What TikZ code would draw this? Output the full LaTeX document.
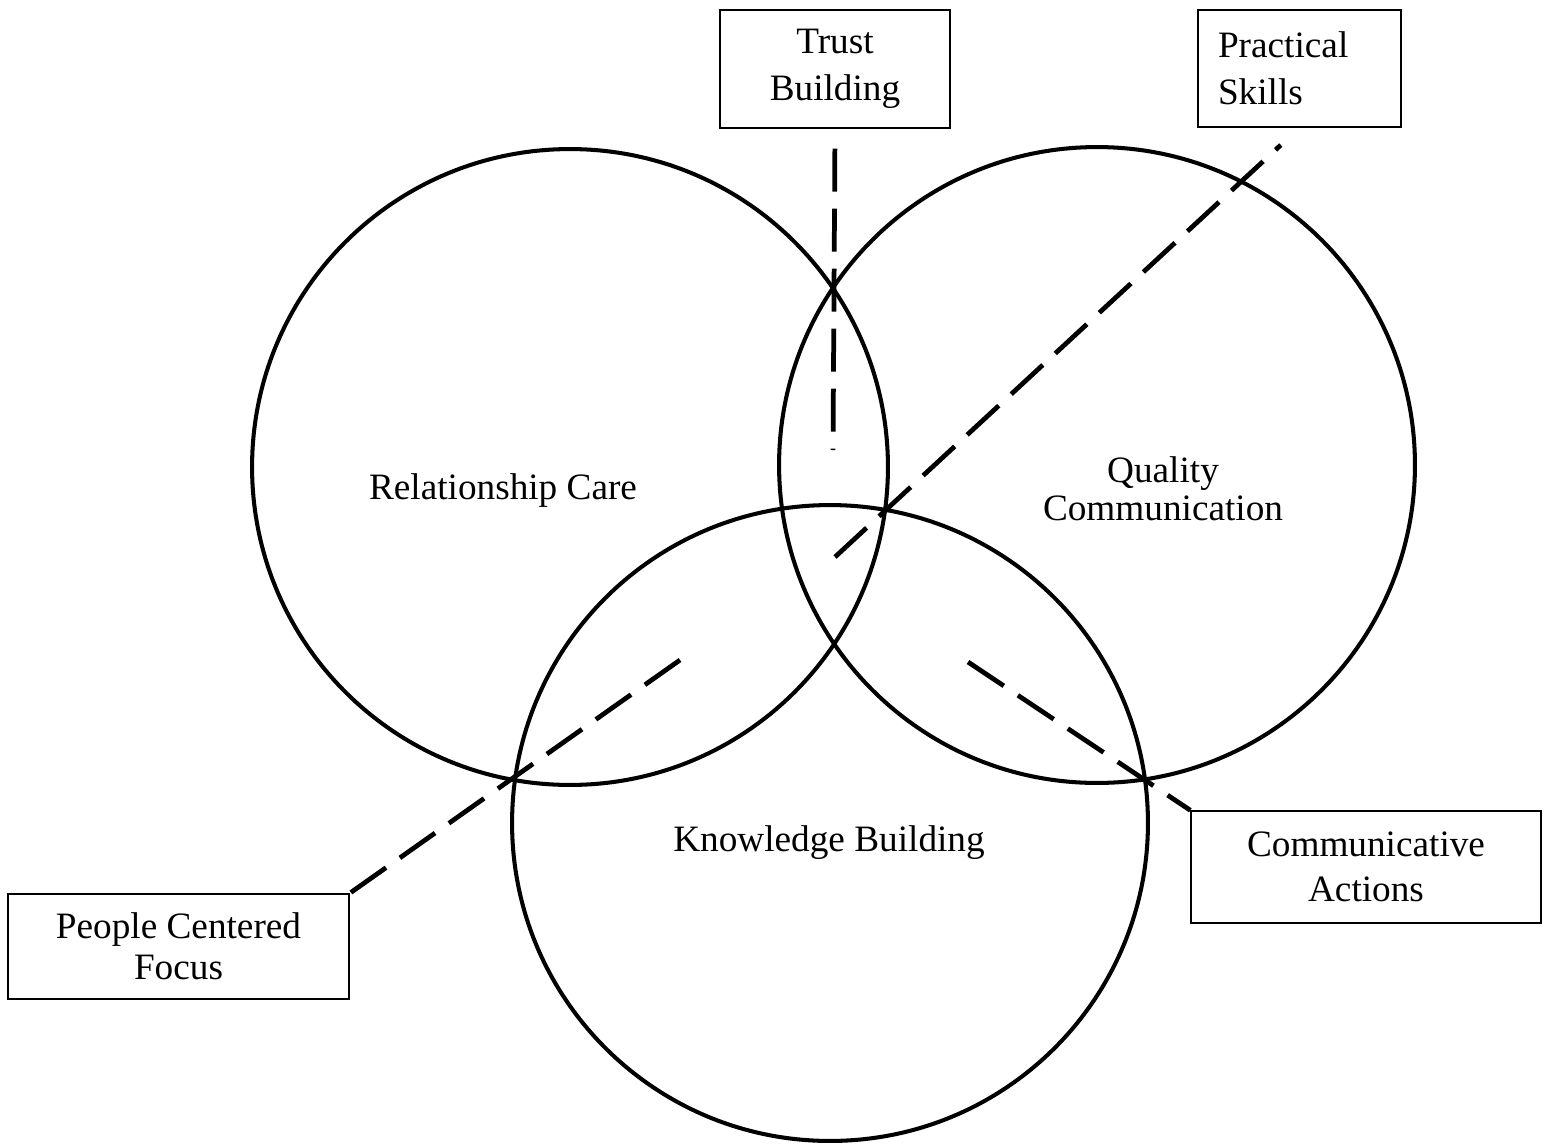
\documentclass[tikz,border=0pt]{standalone}
\usepackage{fontspec}
\setmainfont{Liberation Serif}
\begin{document}
\begin{tikzpicture}[x=0.02cm, y=-0.02cm, font=\fontsize{21.2}{27}\selectfont,
    ring/.style={line width=2.3pt},
    labelbox/.style={draw, line width=0.8pt, align=center, inner sep=0pt},
    link/.style={line width=2.7pt, dash pattern=on 0.86cm off 0.34cm}]
      \useasboundingbox (0,0) rectangle (1550,1146);
      % circle centres
      \coordinate (rc) at (570,467);
      \coordinate (qc) at (1097,465);
      \coordinate (kb) at (830,823);
      \foreach \c in {rc,qc,kb} {
        \draw[ring] (\c) circle[radius=6.36cm];
      }
      % circle texts
      \node (rcText) at (503,491) {Relationship Care};
      \node[align=center, font=\fontsize{21.2}{21.6}\selectfont] (qcText) at (1163,489) {Quality\\Communication};
      \node (kbText) at (829,843) {Knowledge Building};
      % boxes
      \node[labelbox, minimum width=4.6cm, minimum height=2.36cm] (tb) at (835,69) {Trust\\Building};
      \node[labelbox, align=left, text width=3.26cm, inner xsep=0.4cm, minimum height=2.34cm] (ps) at (1299.5,68.5) {Practical\\Skills};
      \node[labelbox, minimum width=7cm, minimum height=2.24cm, font=\fontsize{21.2}{25.6}\selectfont] (ca) at (1366,867) {Communicative\\Actions};
      \node[labelbox, minimum width=6.82cm, minimum height=2.1cm, font=\fontsize{21.2}{23.3}\selectfont] (pcf) at (178.5,946.5) {People Centered\\Focus};
      % inner ends of the dashed links
      \coordinate (tbEnd) at (833,450);
      \coordinate (psEnd) at (835,557);
      \coordinate (pcEnd) at (680,660);
      \coordinate (caEnd) at (968,662);
      % dashed links
      \draw[link, shorten <=0.4cm] (tb.south) -- (tbEnd);
      \draw[link, shorten >=0.51cm] (psEnd) -- (ps.south);
      \draw[link] (pcEnd) -- (pcf.north east);
      \draw[link] (caEnd) -- (ca.north west);
\end{tikzpicture}
\end{document}
